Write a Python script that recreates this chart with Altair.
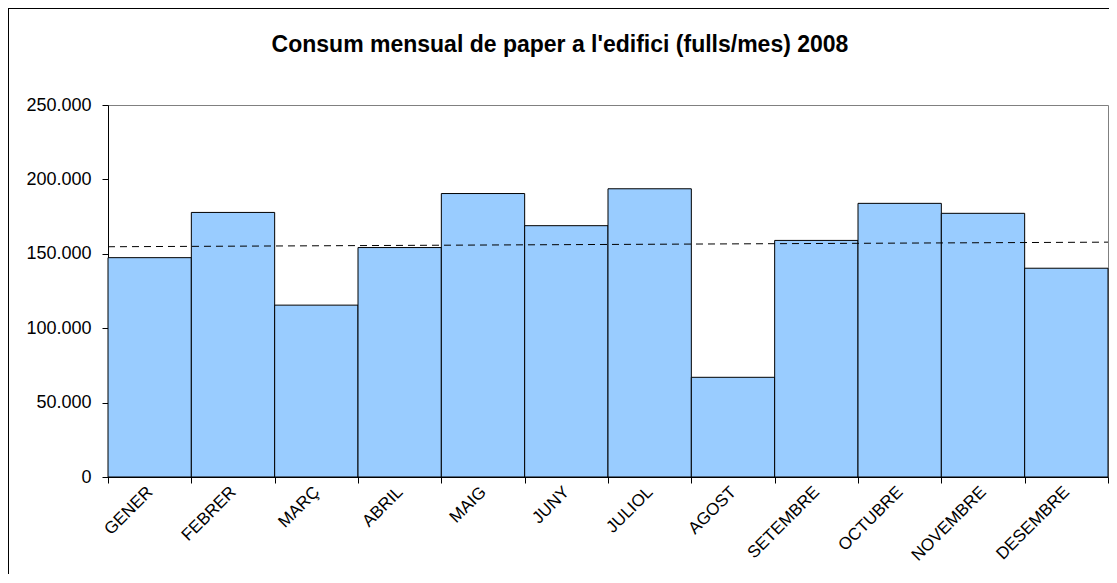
import altair as alt
import pandas as pd

months = ["GENER", "FEBRER", "MARÇ", "ABRIL", "MAIG", "JUNY", "JULIOL",
          "AGOST", "SETEMBRE", "OCTUBRE", "NOVEMBRE", "DESEMBRE"]
sheets = [147400, 177800, 115500, 154200, 190500, 168900, 193700,
          67000, 159000, 183900, 177200, 140300]
month_index = list(range(1, 13))
y_ticks = [0, 50000, 100000, 150000, 200000, 250000]
title_text = "Consum mensual de paper a l'edifici (fulls/mes) 2008"

df = pd.DataFrame({"mes": months, "idx": month_index, "fulls": sheets})

FONT = "Liberation Sans"

deco = pd.DataFrame({"t": [title_text]})

border_top = alt.Chart(deco).mark_rule(color="black", strokeWidth=1).encode(
    x=alt.value(-100), x2=alt.value(1010),
    y=alt.value(-96.5)
)
border_left = alt.Chart(deco).mark_rule(color="black", strokeWidth=1).encode(
    x=alt.value(-99.5),
    y=alt.value(-97), y2=alt.value(480)
)

title = alt.Chart(deco).mark_text(
    font=FONT, fontSize=23, fontWeight="bold", color="black",
    align="center", baseline="alphabetic"
).encode(
    x=alt.value(452), y=alt.value(-53), text="t:N"
)

bars = alt.Chart(df).mark_bar(
    color="#99CCFF", stroke="black", strokeWidth=1
).encode(
    x=alt.X("mes:N", sort=months,
            scale=alt.Scale(paddingInner=0, paddingOuter=0),
            axis=alt.Axis(title=None, labelAngle=-45, labelAlign="right",
                          labelBaseline="middle", labelFontSize=17,
                          labelPadding=6, tickSize=6, tickBand="extent",
                          domainColor="black", tickColor="black",
                          labelColor="black", labelFont=FONT)),
    y=alt.Y("fulls:Q", scale=alt.Scale(domain=[0, 250000], nice=False),
            axis=alt.Axis(title=None, values=y_ticks, grid=False,
                          labelExpr="replace(format(datum.value, ','), ',', '.')",
                          labelFontSize=18, labelPadding=11, tickSize=6,
                          domainColor="black", tickColor="black",
                          labelColor="black", labelFont=FONT))
)

trend = alt.Chart(df).transform_regression(
    "idx", "fulls", method="linear", extent=[0.5, 12.5]
).mark_line(color="black", strokeWidth=1, strokeDash=[7, 5]).encode(
    x=alt.X("idx:Q", scale=alt.Scale(domain=[0.5, 12.5], nice=False, zero=False),
            axis=None),
    y=alt.Y("fulls:Q")
)

chart = alt.layer(border_top, border_left, title, bars, trend).resolve_scale(
    x="independent"
).properties(
    width=1000, height=372,
    padding={"left": 100, "top": 97, "right": 1, "bottom": 97},
    autosize=alt.AutoSizeParams(type="none"),
    background="white"
).configure_view(stroke="#808080", strokeWidth=1)

chart.save("out.html", embed_options={"renderer": "svg", "actions": False})
